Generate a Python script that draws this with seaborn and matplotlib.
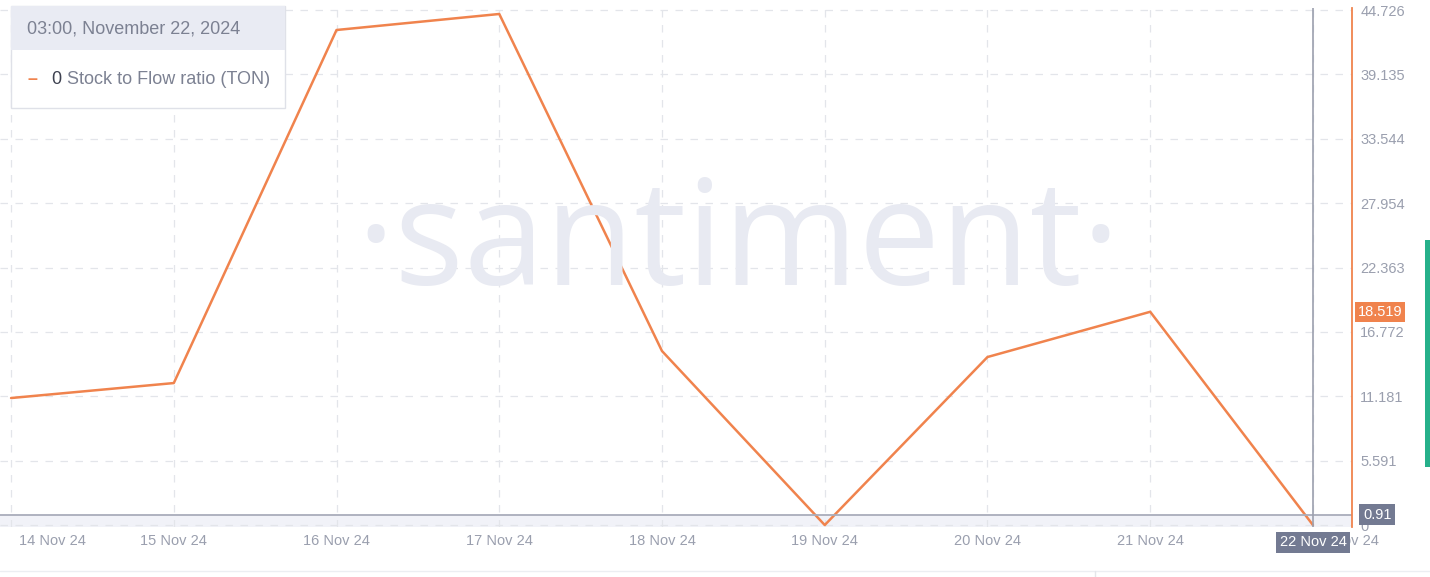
import pandas as pd
import matplotlib.pyplot as plt
import matplotlib.transforms as mtransforms
import seaborn as sns


# Data
DATES = ["2024-11-14", "2024-11-15", "2024-11-16", "2024-11-17", "2024-11-18",
         "2024-11-19", "2024-11-20", "2024-11-21", "2024-11-22"]
SF_RATIO = [11.03, 12.33, 42.99, 44.38, 15.11, 0.0, 14.59, 18.519, 0.0]
Y_TICKS = [0, 5.591, 11.181, 16.772, 22.363, 27.954, 33.544, 39.135, 44.726]
Y_TICK_LABELS = ["0", "5.591", "11.181", "16.772", "22.363", "27.954",
                 "33.544", "39.135", "44.726"]
X_TICK_LABELS = ["14 Nov 24", "15 Nov 24", "16 Nov 24", "17 Nov 24", "18 Nov 24",
                 "19 Nov 24", "20 Nov 24", "21 Nov 24", "22 Nov 24"]

ORANGE = "#f0834d"
GREY_TXT = "#9a9fae"
GRID = "#e3e5ea"


def plot_chart():

    df = pd.DataFrame({"date": pd.to_datetime(DATES), "sf": SF_RATIO})

    sns.set_style("white")
    plt.rcParams["font.family"] = ["Liberation Sans", "DejaVu Sans"]

    fig = plt.figure(figsize=(14.3, 5.77), dpi=100)
    W, H = 1430, 577
    ax = fig.add_axes([0, 1 - 527 / H, 1352 / W, (527 - 8) / H])

    # watermark
    fig.text(738 / W, 1 - 247 / H, "·santiment·", fontsize=105,
             family="Open Sans", fontweight="medium", color="#e8eaf2",
             ha="center", va="center", zorder=0)
    ax.patch.set_alpha(0)

    sns.lineplot(data=df, x="date", y="sf", color=ORANGE, linewidth=1.8, ax=ax)

    start = df["date"].iloc[0] - pd.Timedelta(days=0.068)
    end = df["date"].iloc[-1] + pd.Timedelta(days=0.24)
    ax.set_xlim(start, end)
    ax.set_ylim(-0.17, 44.9)

    ax.set_xticks(df["date"])
    ax.set_xticklabels(X_TICK_LABELS)
    ax.set_yticks(Y_TICKS)
    ax.set_yticklabels(Y_TICK_LABELS)
    ax.yaxis.tick_right()
    ax.tick_params(axis="both", length=0, labelsize=10.5, labelcolor=GREY_TXT)
    ax.tick_params(axis="x", pad=5)
    ax.tick_params(axis="y", pad=6)

    # first label shifted right, last one partly hidden under the crosshair box
    labels = ax.get_xticklabels()
    labels[0].set_transform(labels[0].get_transform() +
                            mtransforms.ScaledTranslation(0.41, 0, fig.dpi_scale_trans))
    labels[-1].set_transform(labels[-1].get_transform() +
                             mtransforms.ScaledTranslation(0.32, 0, fig.dpi_scale_trans))

    ax.grid(True, color=GRID, linestyle=(0, (6, 6)), linewidth=0.9)
    ax.set_xlabel("")
    ax.set_ylabel("")

    for side in ["top", "left", "bottom"]:
        ax.spines[side].set_visible(False)
    ax.spines["right"].set_color(ORANGE)
    ax.spines["right"].set_linewidth(1.3)

    # crosshair
    ax.axhline(0.91, color="#a9adbb", linewidth=1.3)
    ax.axhspan(-0.17, 0.91, color="#f1f2f8", zorder=0.5)
    ax.axvline(df["date"].iloc[-1], color="#9ca0ae", linewidth=1.2)

    ax.annotate("0.91", xy=(1, 0.91), xycoords=("axes fraction", "data"),
                xytext=(8, 0), textcoords="offset points", ha="left", va="center",
                fontsize=10.5, color="white",
                bbox=dict(boxstyle="square,pad=0.25", fc="#737a92", ec="none"))
    ax.annotate("18.519", xy=(1, 18.519), xycoords=("axes fraction", "data"),
                xytext=(4, 0), textcoords="offset points", ha="left", va="center",
                fontsize=10.5, color="white",
                bbox=dict(boxstyle="square,pad=0.2", fc=ORANGE, ec="none"))
    ax.annotate("22 Nov 24", xy=(df["date"].iloc[-1], 0), xycoords=("data", "axes fraction"),
                xytext=(0, -11), textcoords="offset points", ha="center", va="center",
                fontsize=10.5, color="white", annotation_clip=False, zorder=10,
                bbox=dict(boxstyle="square,pad=0.25", fc="#737a92", ec="none"))

    # tooltip / legend box
    fig.patches.append(plt.Rectangle((11 / W, 1 - 108 / H), 274 / W, 102 / H,
                                     transform=fig.transFigure, fc="white",
                                     ec="#dfe1e8", lw=1, zorder=5))
    fig.patches.append(plt.Rectangle((11.5 / W, 1 - 50 / H), 273 / W, 44 / H,
                                     transform=fig.transFigure, fc="#e9ebf3",
                                     ec="none", zorder=6))
    fig.text(27 / W, 1 - 29 / H, "03:00, November 22, 2024", fontsize=13,
             color="#7c8192", va="center", zorder=7)
    fig.text(27 / W, 1 - 79 / H, "–", fontsize=13, color=ORANGE,
             va="center", fontweight="bold", zorder=7)
    fig.text(51 / W, 1 - 79 / H, "0", fontsize=13, color="#3d4150",
             va="center", zorder=7)
    fig.text(67 / W, 1 - 79 / H, "Stock to Flow ratio (TON)", fontsize=13,
             color="#7c8192", va="center", zorder=7)

    # right side green bar and bottom line
    fig.patches.append(plt.Rectangle((1425 / W, 1 - 467 / H), 5 / W, 227 / H,
                                     transform=fig.transFigure, fc="#26b08a",
                                     ec="none"))
    fig.lines.append(plt.Line2D([0, 1], [1 - 571 / H, 1 - 571 / H],
                                transform=fig.transFigure, color="#eceef2", lw=1))
    fig.lines.append(plt.Line2D([1095 / W, 1095 / W], [0, 1 - 571 / H],
                                transform=fig.transFigure, color="#e4e6ea", lw=1))

    fig.savefig("out.png", dpi=100)
    plt.close(fig)


if __name__ == "__main__":

    plot_chart()
